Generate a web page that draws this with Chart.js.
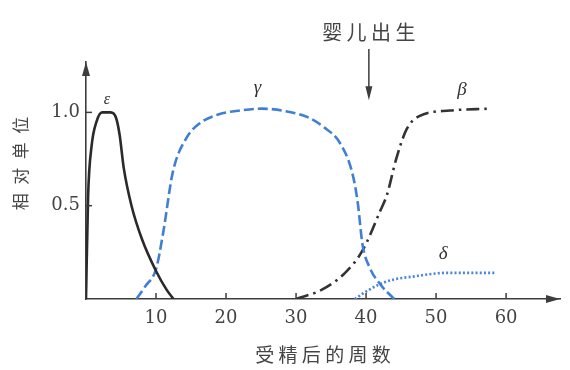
<!DOCTYPE html>
<html>
<head>
<meta charset="utf-8">
<script src="https://cdn.jsdelivr.net/npm/chart.js@4.4.1/dist/chart.umd.min.js"></script>
<style>
  html, body { margin: 0; padding: 0; background: #fff; }
  #wrap { width: 570px; height: 370px; }
</style>
</head>
<body>
<div id="wrap"><canvas id="c" width="570" height="370"></canvas></div>
<script>
// 数据（受精后的周数, 相对单位）
const epsilonX = [0, 0.3, 0.8, 1.5, 2.3, 3.5, 4.3, 4.8, 5.4, 6.5, 8, 10, 11.5, 12.5];
const epsilonY = [0, 0.55, 0.82, 0.95, 1.0, 1.0, 0.97, 0.88, 0.7, 0.5, 0.32, 0.15, 0.05, 0];

const gammaX = [7.2, 8.5, 10, 11, 12.4, 14.3, 16.2, 19, 22, 25, 28, 31.9, 34, 36.2, 38, 38.8, 39.5, 40.5, 42, 44];
const gammaY = [0, 0.07, 0.16, 0.35, 0.68, 0.86, 0.94, 0.99, 1.01, 1.02, 1.01, 0.97, 0.92, 0.84, 0.68, 0.52, 0.29, 0.17, 0.08, 0];

const betaX = [30, 33.7, 37, 39.5, 42, 43, 44.3, 45.8, 47.6, 52, 57.6];
const betaY = [0, 0.05, 0.14, 0.26, 0.47, 0.56, 0.75, 0.91, 0.98, 1.01, 1.02];

const deltaX = [38.4, 40, 42, 44, 46.7, 51.5, 55, 58.6];
const deltaY = [0, 0.04, 0.08, 0.105, 0.12, 0.14, 0.14, 0.14];

const xTicks = [10, 20, 30, 40, 50, 60];
const yTicks = [0.5, 1.0];

const birthWeek = 40.4;

const toPoints = (xs, ys) => xs.map((x, i) => ({ x: x, y: ys[i] }));

const inkColor = "#3d3d3d";
const blue = "#3f7fd6";

// 坐标轴箭头、内侧刻度和注释
const decorPlugin = {
    id: "decor",
    afterDraw(chart) {
        const ctx = chart.ctx;
        const xs = chart.scales.x;
        const ys = chart.scales.y;
        const area = chart.chartArea;
        ctx.save();
        ctx.strokeStyle = inkColor;
        ctx.fillStyle = inkColor;
        ctx.lineWidth = 1.5;

        // 刻度（向内）
        xTicks.forEach(v => {
            const px = xs.getPixelForValue(v);
            ctx.beginPath();
            ctx.moveTo(px, area.bottom);
            ctx.lineTo(px, area.bottom - 6);
            ctx.stroke();
        });
        yTicks.forEach(v => {
            const py = ys.getPixelForValue(v);
            ctx.beginPath();
            ctx.moveTo(area.left, py);
            ctx.lineTo(area.left + 6, py);
            ctx.stroke();
        });

        // 箭头
        ctx.beginPath();
        ctx.moveTo(area.right, area.bottom);
        ctx.lineTo(area.right - 14, area.bottom - 4);
        ctx.lineTo(area.right - 14, area.bottom + 4);
        ctx.closePath();
        ctx.fill();
        ctx.beginPath();
        ctx.moveTo(area.left, area.top);
        ctx.lineTo(area.left - 4, area.top + 14);
        ctx.lineTo(area.left + 4, area.top + 14);
        ctx.closePath();
        ctx.fill();

        // 希腊字母标注
        ctx.textAlign = "center";
        ctx.textBaseline = "middle";
        ctx.fillStyle = "#333";
        ctx.font = "italic 16px 'Liberation Serif'";
        ctx.fillText("ε", xs.getPixelForValue(3), ys.getPixelForValue(1.07));
        ctx.font = "italic 19px 'Liberation Serif'";
        ctx.fillText("γ", xs.getPixelForValue(24.5), ys.getPixelForValue(1.13));
        ctx.fillText("β", xs.getPixelForValue(53.7), ys.getPixelForValue(1.12));
        ctx.fillText("δ", xs.getPixelForValue(51), ys.getPixelForValue(0.24));

        // 婴儿出生
        const bx = xs.getPixelForValue(birthWeek);
        const yTop = ys.getPixelForValue(1.34);
        const yBot = ys.getPixelForValue(1.065);
        ctx.strokeStyle = inkColor;
        ctx.fillStyle = inkColor;
        ctx.lineWidth = 1.5;
        ctx.beginPath();
        ctx.moveTo(bx, yTop);
        ctx.lineTo(bx, yBot - 10);
        ctx.stroke();
        ctx.beginPath();
        ctx.moveTo(bx, yBot);
        ctx.lineTo(bx - 3.5, yBot - 14);
        ctx.lineTo(bx + 3.5, yBot - 14);
        ctx.closePath();
        ctx.fill();
        ctx.fillStyle = "#444";
        ctx.font = "20px 'Noto Sans CJK SC'";
        ctx.fillText("婴 儿 出 生", bx, ys.getPixelForValue(1.43));
        ctx.restore();
    }
};

new Chart(document.getElementById("c"), {
    type: "line",
    data: {
        datasets: [
            {
                label: "ε",
                data: toPoints(epsilonX, epsilonY),
                borderColor: "#2a2a2a",
                borderWidth: 2.6
            },
            {
                label: "γ",
                data: toPoints(gammaX, gammaY),
                borderColor: blue,
                borderWidth: 2.6,
                borderDash: [10, 4]
            },
            {
                label: "β",
                data: toPoints(betaX, betaY),
                borderColor: "#333",
                borderWidth: 2.6,
                borderDash: [13, 5, 2.5, 5]
            },
            {
                label: "δ",
                data: toPoints(deltaX, deltaY),
                borderColor: "#4a86d8",
                borderWidth: 2.6,
                borderDash: [2, 2.2]
            }
        ]
    },
    options: {
        responsive: false,
        animation: false,
        cubicInterpolationMode: "monotone",
        elements: { point: { radius: 0 } },
        layout: { padding: { top: 62, right: 10, bottom: 0, left: 0 } },
        plugins: {
            legend: { display: false },
            tooltip: { enabled: false }
        },
        scales: {
            x: {
                type: "linear",
                min: 0,
                max: 67.7,
                afterBuildTicks: s => { s.ticks = xTicks.map(v => ({ value: v })); },
                afterFit: s => { s.height = 71; },
                grid: { display: true, drawOnChartArea: false, drawTicks: false },
                border: { display: true, color: inkColor, width: 1.6 },
                ticks: {
                    padding: 9,
                    color: "#444",
                    font: { family: "'DejaVu Serif'", size: 18 }
                },
                title: {
                    display: true,
                    text: "受 精 后 的 周 数",
                    color: "#444",
                    font: { family: "'Noto Sans CJK SC'", size: 19 },
                    padding: { top: 0, bottom: 4 }
                }
            },
            y: {
                min: 0,
                max: 1.27,
                afterBuildTicks: s => { s.ticks = yTicks.map(v => ({ value: v })); },
                afterFit: s => { s.width = 86; },
                grid: { display: true, drawOnChartArea: false, drawTicks: false },
                border: { display: true, color: inkColor, width: 1.6 },
                ticks: {
                    padding: 6,
                    color: "#444",
                    font: { family: "'DejaVu Serif'", size: 18 },
                    callback: v => v.toFixed(1)
                },
                title: {
                    display: true,
                    text: "\u3000\u3000相\u2002对\u2002单\u2002位",
                    color: "#444",
                    font: { family: "'Noto Sans CJK SC'", size: 17 },
                    padding: { top: 10, bottom: 0 }
                }
            }
        }
    },
    plugins: [decorPlugin]
});
</script>
</body>
</html>
